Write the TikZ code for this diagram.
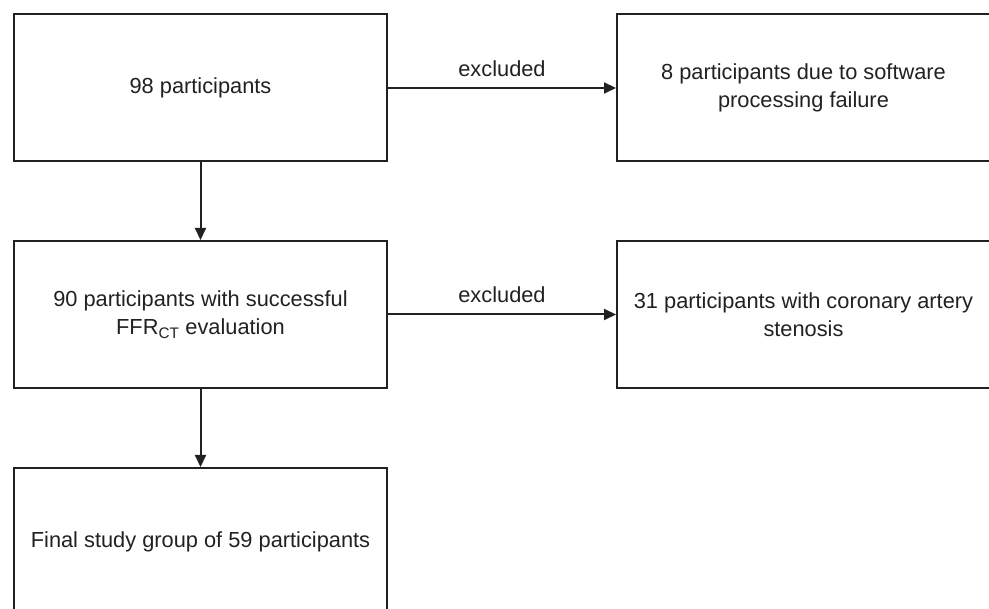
\documentclass[tikz,border=0pt]{standalone}
\usepackage{fontspec}
\setmainfont{Liberation Sans}
\usetikzlibrary{arrows.meta}

\begin{document}
\begin{tikzpicture}[x=1pt,y=-1pt,
    box/.style={draw=black!87,line width=2pt,minimum width=373pt,
      minimum height=147pt,inner sep=0pt,align=center,text=black!87,
      font=\fontsize{21.8}{28}\selectfont},
    arr/.style={draw=black!87,line width=2pt,
      -{Triangle[length=12pt,width=11pt]}},
    lbl/.style={text=black!87,font=\fontsize{21.8}{28}\selectfont}]
  \useasboundingbox (0,0) rectangle (989,609);
  \clip (0,0) rectangle (989,609);
  % left column
  \node[box] (all) at (200.5,88) {98 participants};
  \node[box] (ffr) at (200.5,314.5) {90 participants with successful\\
    FFR\textsubscript{CT} evaluation};
  \node[box] (final) at (200.5,541.5) {Final study group of 59 participants};
  % right column (exclusions)
  \node[box] (fail) at (803.5,88) {8 participants due to software\\
    processing failure};
  \node[box] (sten) at (803.5,314.5) {31 participants with coronary artery\\
    stenosis};
  % connectors
  \draw[arr] (all) -- (ffr);
  \draw[arr] (ffr) -- (final);
  \draw[arr] (all) -- node[lbl,above=7pt] {excluded} (fail);
  \draw[arr] (ffr) -- node[lbl,above=7pt] {excluded} (sten);
\end{tikzpicture}
\end{document}
